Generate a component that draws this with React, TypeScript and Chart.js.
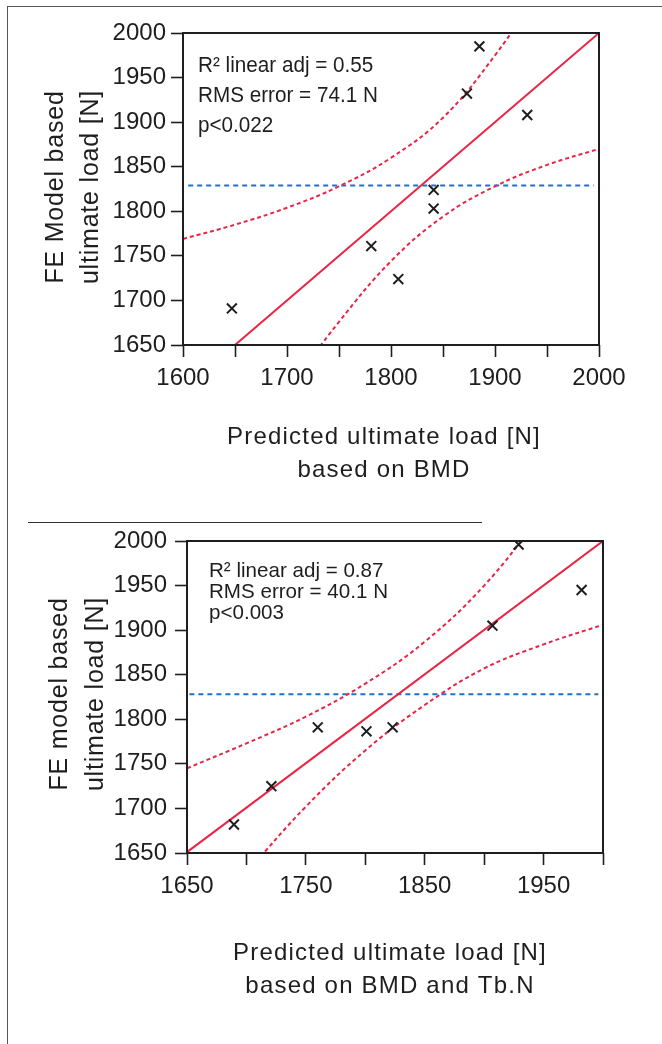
import React, { useEffect, useRef } from 'react';
import { Chart, registerables } from 'chart.js';

Chart.register(...registerables);

const FONT = '"Liberation Sans", Arial, Helvetica, sans-serif';
const RED = 'rgb(232, 38, 68)';
const BLUE = 'rgb(32, 112, 205)';
const INK = '#1e1e1e';

// ---------- Chart A: based on BMD ----------
const bmdPredicted = [1647, 1781, 1807, 1841, 1841, 1873, 1885, 1931];
const bmdFE = [1691, 1761, 1724, 1824, 1803, 1932, 1985, 1908];
const bmdFitX = [1650, 2000];
const bmdFitY = [1650, 2000];
const bmdUpperX = [1600, 1650, 1700, 1750, 1800, 1850, 1900, 1950];
const bmdUpperY = [1769, 1785, 1804, 1828, 1860, 1905, 1975, 2060];
const bmdLowerX = [1700, 1750, 1800, 1850, 1900, 1950, 2000];
const bmdLowerY = [1598, 1676, 1744, 1794, 1828, 1852, 1870];
const bmdMeanX = [1605, 1995];
const bmdMeanY = [1829, 1829];
const bmdXTickLabels = [1600, 1700, 1800, 1900, 2000];
const bmdYTickLabels = [1650, 1700, 1750, 1800, 1850, 1900, 1950, 2000];
const bmdXTitle = ['Predicted ultimate load [N]', 'based on BMD'];
const bmdYTitle = ['FE Model based', 'ultimate load [N]'];
const bmdStats = ['R² linear adj = 0.55', 'RMS error = 74.1 N', 'p<0.022'];

// ---------- Chart B: based on BMD and Tb.N ----------
const tbnPredicted = [1689.5, 1721, 1760, 1801, 1823, 1907, 1929, 1982];
const tbnFE = [1682, 1725, 1791, 1786.5, 1791, 1905, 1996, 1945];
const tbnFitX = [1650, 2000];
const tbnFitY = [1651, 2000];
const tbnUpperX = [1650, 1700, 1750, 1800, 1850, 1900, 1950];
const tbnUpperY = [1745, 1773, 1803, 1840, 1887, 1950, 2032];
const tbnLowerX = [1700, 1750, 1800, 1850, 1900, 1950, 2000];
const tbnLowerY = [1628, 1702, 1765, 1816, 1857, 1884, 1906];
const tbnMeanX = [1652, 1996];
const tbnMeanY = [1828, 1828];
const tbnXTickLabels = [1650, 1750, 1850, 1950];
const tbnYTickLabels = [1650, 1700, 1750, 1800, 1850, 1900, 1950, 2000];
const tbnXTitle = ['Predicted ultimate load [N]', 'based on BMD and Tb.N'];
const tbnYTitle = ['FE model based', 'ultimate load [N]'];
const tbnStats = ['R² linear adj = 0.87', 'RMS error = 40.1 N', 'p<0.003'];

const pts = (xs: number[], ys: number[]) => xs.map((x, i) => ({ x, y: ys[i] }));

type Spec = {
  width: number;
  height: number;
  area: { left: number; top: number; right: number; bottom: number };
  xMin: number;
  xMax: number;
  yMin: number;
  yMax: number;
  px: number[];
  py: number[];
  fitX: number[];
  fitY: number[];
  upX: number[];
  upY: number[];
  loX: number[];
  loY: number[];
  meanX: number[];
  meanY: number[];
  xLabels: number[];
  yLabels: number[];
  xTitle: string[];
  yTitle: string[];
  stats: string[];
  yTickPad: number;
  layoutText: {
    xTitleX: number;
    xTitleBase: number;
    xTitleGap: number;
    yTitleY: number;
    yTitleBase: number;
    yTitleGap: number;
    statsX: number;
    statsBase: number;
    statsGap: number;
    statsSize: number;
    statsScale: number;
  };
};

function buildChart(canvas: HTMLCanvasElement, s: Spec) {
  const L = s.layoutText;
  const textPlugin = {
    id: 'frameAndText',
    afterDraw(chart: any) {
      const { ctx, chartArea: a } = chart;
      ctx.save();
      ctx.strokeStyle = INK;
      ctx.lineWidth = 2;
      ctx.strokeRect(a.left, a.top, a.right - a.left, a.bottom - a.top);

      ctx.fillStyle = INK;
      // x title
      ctx.font = `24px ${FONT}`;
      (ctx as any).letterSpacing = '1.2px';
      ctx.textAlign = 'center';
      ctx.textBaseline = 'alphabetic';
      s.xTitle.forEach((t, i) => ctx.fillText(t, L.xTitleX, L.xTitleBase + i * L.xTitleGap));

      // y title (rotated)
      ctx.save();
      ctx.font = `25px ${FONT}`;
      (ctx as any).letterSpacing = '0.8px';
      s.yTitle.forEach((t, i) => {
        ctx.save();
        ctx.translate(L.yTitleBase + i * L.yTitleGap, L.yTitleY);
        ctx.rotate(-Math.PI / 2);
        ctx.fillText(t, 0, 0);
        ctx.restore();
      });
      ctx.restore();

      // stats annotation
      (ctx as any).letterSpacing = '0px';
      ctx.font = `${L.statsSize}px ${FONT}`;
      ctx.textAlign = 'left';
      s.stats.forEach((t, i) => {
        ctx.save();
        ctx.translate(L.statsX, L.statsBase + i * L.statsGap);
        ctx.scale(L.statsScale, 1);
        ctx.fillText(t, 0, 0);
        ctx.restore();
      });
      ctx.restore();
    },
  };

  const tickFont = { family: FONT, size: 24 };

  return new Chart(canvas, {
    type: 'scatter',
    data: {
      datasets: [
        {
          label: 'Specimens',
          data: pts(s.px, s.py),
          pointStyle: 'crossRot',
          pointRadius: 7,
          pointBorderWidth: 2,
          borderColor: INK,
          backgroundColor: INK,
          showLine: false,
        },
        {
          label: 'Fit',
          data: pts(s.fitX, s.fitY),
          showLine: true,
          borderColor: RED,
          borderWidth: 2,
          pointRadius: 0,
        },
        {
          label: 'Upper 95%',
          data: pts(s.upX, s.upY),
          showLine: true,
          borderColor: RED,
          borderWidth: 2,
          borderDash: [4, 3],
          pointRadius: 0,
          tension: 0.4,
        },
        {
          label: 'Lower 95%',
          data: pts(s.loX, s.loY),
          showLine: true,
          borderColor: RED,
          borderWidth: 2,
          borderDash: [4, 3],
          pointRadius: 0,
          tension: 0.4,
        },
        {
          label: 'Mean',
          data: pts(s.meanX, s.meanY),
          showLine: true,
          borderColor: BLUE,
          borderWidth: 2,
          borderDash: [5, 4],
          pointRadius: 0,
        },
      ] as any,
    },
    options: {
      responsive: false,
      animation: false,
      events: [],
      layout: {
        padding: {
          left: 0,
          top: s.area.top,
          right: s.width - s.area.right,
          bottom: 0,
        },
      },
      plugins: {
        legend: { display: false },
        tooltip: { enabled: false },
        title: { display: false },
      },
      scales: {
        x: {
          type: 'linear',
          min: s.xMin,
          max: s.xMax,
          afterFit: (sc: any) => {
            sc.height = s.height - s.area.bottom;
          },
          border: { display: false },
          grid: {
            display: true,
            drawOnChartArea: false,
            drawTicks: true,
            tickLength: 12,
            tickWidth: 1.6,
            tickColor: INK,
          },
          ticks: {
            stepSize: 50,
            autoSkip: false,
            maxRotation: 0,
            padding: 7,
            color: INK,
            font: tickFont,
            callback: (v: any) => (s.xLabels.includes(Number(v)) ? String(v) : ''),
          },
        },
        y: {
          type: 'linear',
          min: s.yMin,
          max: s.yMax,
          afterFit: (sc: any) => {
            sc.width = s.area.left;
          },
          border: { display: false },
          grid: {
            display: true,
            drawOnChartArea: false,
            drawTicks: true,
            tickLength: 12,
            tickWidth: 1.6,
            tickColor: INK,
          },
          ticks: {
            stepSize: 50,
            autoSkip: false,
            padding: s.yTickPad,
            color: INK,
            font: tickFont,
            callback: (v: any) => (s.yLabels.includes(Number(v)) ? String(v) : ''),
          },
        },
      },
    } as any,
    plugins: [textPlugin],
  });
}

const specA: Spec = {
  width: 662,
  height: 500,
  area: { left: 183, top: 33, right: 599, bottom: 345 },
  xMin: 1600,
  xMax: 2000,
  yMin: 1650,
  yMax: 2000,
  px: bmdPredicted,
  py: bmdFE,
  fitX: bmdFitX,
  fitY: bmdFitY,
  upX: bmdUpperX,
  upY: bmdUpperY,
  loX: bmdLowerX,
  loY: bmdLowerY,
  meanX: bmdMeanX,
  meanY: bmdMeanY,
  xLabels: bmdXTickLabels,
  yLabels: bmdYTickLabels,
  xTitle: bmdXTitle,
  yTitle: bmdYTitle,
  stats: bmdStats,
  yTickPad: 5,
  layoutText: {
    xTitleX: 384,
    xTitleBase: 444,
    xTitleGap: 33,
    yTitleY: 187,
    yTitleBase: 63,
    yTitleGap: 35,
    statsX: 198,
    statsBase: 72,
    statsGap: 30,
    statsSize: 22,
    statsScale: 0.94,
  },
};

const specB: Spec = {
  width: 662,
  height: 544,
  area: { left: 187, top: 41, right: 603, bottom: 353 },
  xMin: 1650,
  xMax: 2000,
  yMin: 1650,
  yMax: 2000,
  px: tbnPredicted,
  py: tbnFE,
  fitX: tbnFitX,
  fitY: tbnFitY,
  upX: tbnUpperX,
  upY: tbnUpperY,
  loX: tbnLowerX,
  loY: tbnLowerY,
  meanX: tbnMeanX,
  meanY: tbnMeanY,
  xLabels: tbnXTickLabels,
  yLabels: tbnYTickLabels,
  xTitle: tbnXTitle,
  yTitle: tbnYTitle,
  stats: tbnStats,
  yTickPad: 8,
  layoutText: {
    xTitleX: 390,
    xTitleBase: 460,
    xTitleGap: 33,
    yTitleY: 194,
    yTitleBase: 67,
    yTitleGap: 36,
    statsX: 209,
    statsBase: 77,
    statsGap: 21,
    statsSize: 21,
    statsScale: 0.98,
  },
};

function ChartCanvas({ spec, top }: { spec: Spec; top: number }) {
  const ref = useRef<HTMLCanvasElement | null>(null);
  useEffect(() => {
    if (!ref.current) return;
    const chart = buildChart(ref.current, spec);
    return () => chart.destroy();
  }, [spec]);
  return (
    <canvas
      ref={ref}
      width={spec.width}
      height={spec.height}
      style={{ position: 'absolute', left: 0, top, width: spec.width, height: spec.height }}
    />
  );
}

export default function App() {
  useEffect(() => {
    document.body.style.margin = '0';
    document.body.style.overflow = 'hidden';
    document.body.style.background = '#ffffff';
  }, []);
  return (
    <div style={{ position: 'relative', width: 662, height: 1044, overflow: 'hidden', background: '#fff' }}>
      <ChartCanvas spec={specA} top={0} />
      <ChartCanvas spec={specB} top={500} />
      <div
        style={{
          position: 'absolute',
          left: 7,
          top: 6,
          width: 662,
          height: 1100,
          borderLeft: '1.5px solid #555',
          borderTop: '1.5px solid #555',
          pointerEvents: 'none',
        }}
      />
      <div
        style={{
          position: 'absolute',
          left: 28,
          top: 522,
          width: 454,
          height: 0,
          borderTop: '1.5px solid #333',
          pointerEvents: 'none',
        }}
      />
    </div>
  );
}
